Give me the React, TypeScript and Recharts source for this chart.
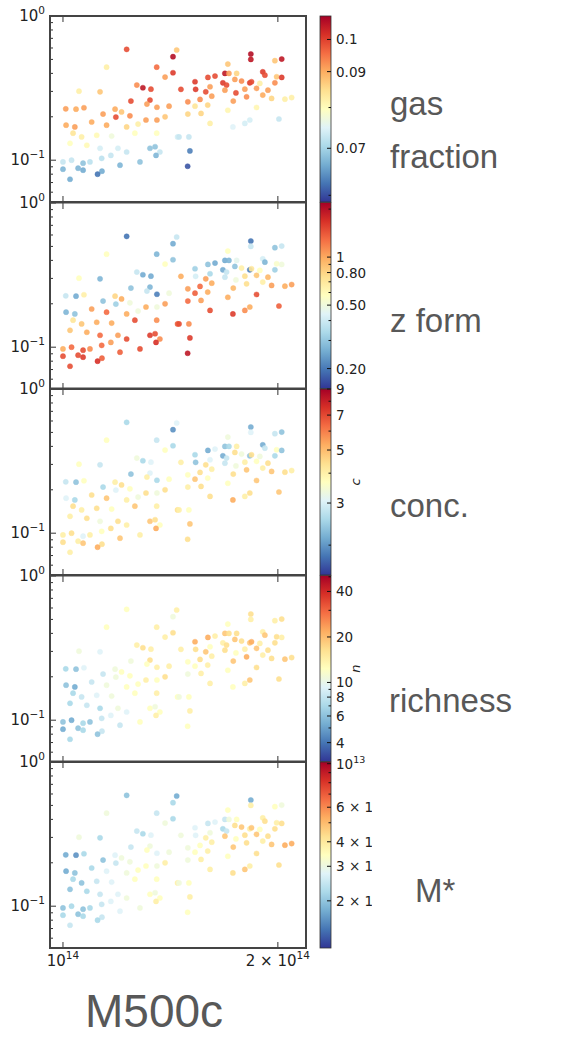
import React from "react";
import { ScatterChart, Scatter, XAxis, YAxis } from "recharts";

// halo mass in units of 1e14 (x axis) and y value, same halos in all five panels
const massE14 = [
  1.228, 1.151, 1.443, 1.426, 1.353, 1.39, 1.426, 1.127, 1.053, 1.269,
  1.294, 1.328, 1.245, 1.324, 1.311, 1.354, 1.408, 1.009, 1.043, 1.07,
  1.183, 1.208, 1.138, 1.186, 1.241, 1.307, 1.354, 1.39, 1.01, 1.039,
  1.097, 1.151, 1.228, 1.274, 1.033, 1.062, 1.115, 1.17, 1.261, 1.353,
  1.447, 1.023, 1.08, 1.127, 1.194, 1.228, 1.324, 1.346, 1.367, 1.35,
  1.0, 1.028, 1.067, 1.091, 1.133, 1.167, 1.282, 1.202, 1.0, 1.05,
  1.067, 1.134, 1.118, 1.023, 1.833, 1.833, 2.025, 1.981, 1.702, 1.686,
  1.708, 1.596, 1.633, 1.751, 1.905, 1.918, 1.992, 2.025, 1.531, 1.675,
  1.695, 1.741, 1.779, 1.827, 1.837, 1.887, 1.981, 1.463, 1.534, 1.607,
  1.585, 1.686, 1.798, 1.867, 1.937, 1.747, 1.616, 1.556, 1.496, 1.808,
  1.732, 1.905, 1.96, 2.046, 2.091, 1.595, 1.531, 1.496, 1.561, 1.702,
  1.867, 1.607, 1.73, 1.798, 1.827, 2.007, 1.454, 1.501, 1.506, 1.495,
];

const yValue = [
  0.587, 0.442, 0.581, 0.522, 0.442, 0.377, 0.404, 0.298, 0.301, 0.332,
  0.318, 0.311, 0.257, 0.261, 0.245, 0.233, 0.237, 0.227, 0.226, 0.231,
  0.226, 0.216, 0.209, 0.199, 0.203, 0.19, 0.19, 0.2, 0.175, 0.17,
  0.184, 0.175, 0.17, 0.178, 0.154, 0.145, 0.149, 0.147, 0.154, 0.154,
  0.145, 0.131, 0.127, 0.121, 0.121, 0.114, 0.121, 0.124, 0.114, 0.108,
  0.0973, 0.1, 0.0953, 0.0973, 0.103, 0.108, 0.0973, 0.0923, 0.0866, 0.088,
  0.0853, 0.0839, 0.08, 0.0738, 0.545, 0.5, 0.503, 0.49, 0.464, 0.4,
  0.4, 0.375, 0.383, 0.4, 0.41, 0.389, 0.379, 0.375, 0.35, 0.344,
  0.332, 0.363, 0.354, 0.344, 0.35, 0.341, 0.344, 0.31, 0.31, 0.323,
  0.298, 0.306, 0.311, 0.315, 0.306, 0.293, 0.278, 0.264, 0.254, 0.275,
  0.257, 0.283, 0.268, 0.265, 0.272, 0.241, 0.237, 0.209, 0.211, 0.222,
  0.232, 0.18, 0.17, 0.18, 0.19, 0.193, 0.145, 0.145, 0.116, 0.0908,
];

const gasFraction = [
  0.0986, 0.0821, 0.0872, 0.1061, 0.0956, 0.0911, 0.1004, 0.0872, 0.0821, 0.0927,
  0.1048, 0.0986, 0.0986, 0.0986, 0.0911, 0.0911, 0.0911, 0.0911, 0.09, 0.0911,
  0.09, 0.0872, 0.0911, 0.0986, 0.0927, 0.0911, 0.0911, 0.0872, 0.09, 0.0911,
  0.09, 0.09, 0.0857, 0.0821, 0.0836, 0.0821, 0.0806, 0.0772, 0.0796, 0.0796,
  0.074, 0.0796, 0.0806, 0.074, 0.074, 0.0727, 0.0684, 0.0684, 0.0727, 0.0671,
  0.0727, 0.0727, 0.0684, 0.0718, 0.0718, 0.0727, 0.0684, 0.0671, 0.0671, 0.0671,
  0.0663, 0.0663, 0.0624, 0.0663, 0.1061, 0.1048, 0.1048, 0.0872, 0.0872, 0.1048,
  0.0911, 0.0986, 0.0986, 0.0857, 0.1004, 0.0986, 0.0872, 0.1004, 0.1004, 0.1004,
  0.0986, 0.0911, 0.0927, 0.1004, 0.0986, 0.0821, 0.0927, 0.0986, 0.1004, 0.0911,
  0.0986, 0.0911, 0.0911, 0.0911, 0.0911, 0.0986, 0.0911, 0.0927, 0.0927, 0.0927,
  0.0911, 0.09, 0.0857, 0.0821, 0.0821, 0.0857, 0.0836, 0.0857, 0.0857, 0.0811,
  0.0811, 0.0821, 0.0749, 0.074, 0.074, 0.0727, 0.0727, 0.0727, 0.0632, 0.0605,
];

const zForm = [
  0.196, 0.574, 0.384, 0.256, 0.271, 0.574, 0.294, 0.271, 0.574, 0.384,
  0.256, 0.256, 0.294, 0.271, 0.384, 0.207, 0.502, 0.384, 0.256, 0.657,
  0.793, 0.982, 0.294, 0.318, 0.502, 0.982, 0.502, 1.04, 0.271, 0.294,
  1.04, 1.29, 0.982, 0.502, 0.712, 0.86, 0.982, 0.982, 1.47, 1.12,
  1.36, 0.86, 0.982, 1.29, 1.04, 1.47, 1.59, 1.47, 1.12, 1.68,
  0.982, 1.29, 1.47, 1.12, 1.29, 1.04, 1.47, 1.36, 1.47, 1.47,
  1.59, 1.36, 1.68, 1.47, 0.196, 0.384, 0.384, 0.294, 0.574, 0.256,
  0.271, 0.294, 0.256, 0.463, 0.416, 0.271, 0.544, 0.502, 0.318, 0.256,
  0.384, 0.294, 0.657, 0.207, 0.712, 0.574, 0.318, 0.982, 0.416, 0.336,
  1.04, 0.384, 0.75, 0.86, 0.932, 0.502, 0.982, 1.29, 1.04, 0.75,
  0.932, 0.657, 1.04, 0.982, 1.04, 0.982, 1.36, 1.29, 1.04, 0.982,
  1.47, 1.47, 1.59, 1.12, 0.982, 1.36, 1.47, 1.12, 1.59, 1.92,
];

const concentration = [
  2.57, 3.67, 3.07, 1.96, 2.81, 3.67, 2.57, 2.81, 3.67, 3.36,
  2.57, 3.07, 2.35, 3.07, 4.02, 2.57, 3.67, 2.81, 2.35, 3.67,
  4.02, 4.39, 2.57, 3.07, 3.67, 4.39, 3.36, 4.39, 3.07, 2.57,
  4.39, 4.8, 4.02, 3.36, 4.39, 4.02, 4.39, 3.67, 4.8, 4.02,
  4.39, 4.02, 4.39, 3.36, 4.39, 4.02, 4.8, 4.39, 3.67, 5.25,
  4.02, 4.39, 3.07, 4.02, 3.67, 4.39, 4.02, 4.8, 4.39, 4.02,
  4.8, 4.39, 5.25, 4.02, 2.15, 3.07, 2.35, 2.81, 3.36, 2.35,
  2.57, 2.15, 3.07, 4.02, 2.15, 2.81, 3.67, 2.35, 2.57, 2.15,
  2.81, 4.39, 3.36, 2.35, 4.39, 3.36, 2.57, 4.02, 2.35, 3.07,
  4.39, 2.81, 4.02, 3.67, 4.39, 3.36, 4.02, 4.39, 3.67, 4.8,
  4.39, 4.02, 4.8, 4.39, 4.02, 3.67, 4.8, 4.02, 4.39, 3.67,
  4.8, 4.39, 5.25, 4.02, 4.39, 4.8, 4.02, 3.67, 4.8, 4.39,
];

const richness = [
  12.4, 12.4, 14.2, 10.7, 14.2, 14.2, 16.4, 9.3, 10.7, 14.2,
  16.4, 14.2, 10.7, 16.4, 12.4, 14.2, 14.2, 7.0, 6.1, 9.3,
  10.7, 12.4, 8.1, 10.7, 12.4, 14.2, 12.4, 16.4, 6.1, 5.3,
  8.1, 10.7, 12.4, 12.4, 7.0, 8.1, 9.3, 10.7, 12.4, 14.2,
  12.4, 7.0, 8.1, 7.0, 10.7, 9.3, 12.4, 10.7, 12.4, 14.2,
  6.1, 5.3, 7.0, 6.1, 8.1, 9.3, 12.4, 8.1, 5.3, 6.1,
  7.0, 8.1, 6.1, 7.0, 16.4, 14.2, 16.4, 14.2, 12.4, 18.9,
  16.4, 21.8, 14.2, 16.4, 14.2, 18.9, 16.4, 14.2, 21.8, 14.2,
  16.4, 18.9, 16.4, 18.9, 21.8, 14.2, 16.4, 14.2, 16.4, 12.4,
  18.9, 16.4, 14.2, 18.9, 16.4, 12.4, 14.2, 16.4, 12.4, 21.8,
  18.9, 14.2, 16.4, 18.9, 16.4, 14.2, 12.4, 10.7, 14.2, 12.4,
  16.4, 14.2, 12.4, 14.2, 18.9, 16.4, 10.7, 12.4, 14.2, 12.4,
];

// stellar mass in units of 1e12
const mStarE12 = [
  1.98, 3.07, 1.78, 2.21, 2.47, 3.07, 2.21, 2.21, 3.07, 2.47,
  2.21, 2.75, 2.47, 3.07, 3.42, 2.75, 3.07, 1.78, 1.6, 2.21,
  2.75, 3.07, 1.98, 2.47, 3.07, 3.42, 3.07, 3.82, 1.78, 1.98,
  2.21, 2.75, 3.07, 3.42, 2.21, 1.98, 2.47, 2.75, 3.42, 3.42,
  3.82, 1.98, 2.21, 2.47, 2.75, 3.07, 3.42, 3.07, 3.42, 3.82,
  1.98, 2.21, 1.98, 2.21, 2.47, 2.75, 3.07, 2.75, 2.21, 1.98,
  2.21, 2.47, 2.21, 2.47, 1.78, 3.82, 3.07, 3.42, 3.42, 2.47,
  3.07, 2.47, 2.75, 3.42, 3.82, 4.26, 3.82, 4.26, 2.75, 2.21,
  2.47, 4.26, 4.75, 3.82, 4.75, 3.42, 4.26, 3.07, 2.75, 3.07,
  3.82, 4.75, 4.26, 4.75, 4.26, 3.42, 3.82, 3.42, 3.07, 4.26,
  4.75, 3.82, 4.75, 5.29, 5.29, 3.82, 3.42, 3.07, 3.82, 3.42,
  4.26, 3.82, 4.26, 4.75, 3.82, 4.26, 3.07, 3.42, 3.82, 3.42,
];

const yTicks = [0.06, 0.07, 0.08, 0.09, 0.1, 0.2, 0.3, 0.4, 0.5, 0.6, 0.7, 0.8, 0.9, 1];
const xTicks = [1, 2];

// colorbar ticks
const gasTicks = [0.07, 0.09, 0.1];
const gasTickLabels = ["0.07", "0.09", "0.1"];
const gasMinor = [0.06, 0.08];
const zFormTicks = [0.2, 0.5, 0.8, 1];
const zFormTickLabels = ["0.20", "0.50", "0.80", "1"];
const zFormMinor = [0.3, 0.4, 0.6, 0.7, 0.9, 2];
const concTicks = [3, 5, 7, 9];
const concTickLabels = ["3", "5", "7", "9"];
const concMinor = [2, 4, 6, 8];
const richTicks = [4, 6, 8, 10, 20, 40];
const richTickLabels = ["4", "6", "8", "10", "20", "40"];
const richMinor = [5, 7, 9, 30, 50];
const mStarTicks = [2, 3, 4, 6, 10];
const mStarTickLabels = [["2 × 10", "12"], ["3 × 10", "12"], ["4 × 10", "12"], ["6 × 10", "12"], ["10", "13"]];
const mStarMinor = [5, 7, 8, 9];

const RDYLBU_R = [
  "#313695", "#4575b4", "#74add1", "#abd9e9", "#e0f3f8", "#ffffbf",
  "#fee090", "#fdae61", "#f46d43", "#d73027", "#a50026",
];

function hexRgb(h: string) {
  return [1, 3, 5].map((i) => parseInt(h.slice(i, i + 2), 16));
}

function cmap(t: number) {
  const c = Math.max(0, Math.min(1, t)) * 10;
  const i = Math.min(9, Math.floor(c));
  const f = c - i;
  const a = hexRgb(RDYLBU_R[i]);
  const b = hexRgb(RDYLBU_R[i + 1]);
  const rgb = a.map((v, k) => Math.round(v + (b[k] - v) * f));
  return `rgb(${rgb[0]},${rgb[1]},${rgb[2]})`;
}

const logNorm = (v: number, lo: number, hi: number) =>
  (Math.log(v) - Math.log(lo)) / (Math.log(hi) - Math.log(lo));

const PANEL_H = 186;
const PANEL_TOPS = [16, 202.5, 389, 575.5, 762];
const PLOT_LEFT = 50;
const PLOT_W = 256;
const PAD = 14;
const CB_X = 320;
const CB_W = 11;
const AXIS_FONT = "DejaVu Sans, sans-serif";
const LABEL_FONT = "Liberation Sans, Arial, sans-serif";

const panels = [
  { values: gasFraction, domain: [0.0587, 0.108], ticks: gasTicks, labels: gasTickLabels, minor: gasMinor, title: ["gas", "fraction"], titleX: 390, titleY: [115, 168], cbLabel: "" },
  { values: zForm, domain: [0.15, 2.2], ticks: zFormTicks, labels: zFormTickLabels, minor: zFormMinor, title: ["z form"], titleX: 390, titleY: [332], cbLabel: "" },
  { values: concentration, domain: [1.5, 9], ticks: concTicks, labels: concTickLabels, minor: concMinor, title: ["conc."], titleX: 390, titleY: [517], cbLabel: "c" },
  { values: richness, domain: [3, 51], ticks: richTicks, labels: richTickLabels, minor: richMinor, title: ["richness"], titleX: 389, titleY: [712], cbLabel: "n" },
  { values: mStarE12, domain: [1.15, 10.2], ticks: mStarTicks, labels: mStarTickLabels, minor: mStarMinor, title: ["M*"], titleX: 415, titleY: [902], cbLabel: "" },
];

function YTick(props: any) {
  const { y, payload } = props;
  const v = payload.value;
  const major = v === 1 || v === 0.1;
  return (
    <g>
      <line x1={PLOT_LEFT} x2={PLOT_LEFT + (major ? 6 : 3)} y1={y} y2={y} stroke="#333" strokeWidth={1} />
      {major && (
        <text x={45} y={y + 5} textAnchor="end" fontFamily={AXIS_FONT} fontSize={15} fill="#222">
          10<tspan dy={-7} fontSize={10.5}>{v === 1 ? "0" : "−1"}</tspan>
        </text>
      )}
    </g>
  );
}

function makeXTick(showLabel: boolean) {
  return (props: any) => {
    const { x, payload } = props;
    const bottom = PAD + PANEL_H;
    const v = payload.value;
    return (
      <g>
        <line x1={x} x2={x} y1={bottom} y2={bottom - 6} stroke="#333" strokeWidth={1} />
        <line x1={x} x2={x} y1={PAD} y2={PAD + 6} stroke="#333" strokeWidth={1} />
        {showLabel && (
          <text x={x} y={bottom + 18} textAnchor="middle" fontFamily={AXIS_FONT} fontSize={15} fill="#222">
            {v === 1 ? "10" : "2 × 10"}
            <tspan dy={-7} fontSize={10.5}>14</tspan>
          </text>
        )}
      </g>
    );
  };
}

function Panel({ index }: { index: number }) {
  const p = panels[index];
  const [lo, hi] = p.domain;
  const data = massE14.map((m, i) => ({
    m,
    y: yValue[i],
    color: cmap(logNorm(p.values[i], lo, hi)),
  }));
  return (
    <div style={{ position: "absolute", left: 0, top: PANEL_TOPS[index] - PAD }}>
      <ScatterChart width={320} height={PAD + PANEL_H + 30} margin={{ top: PAD, right: 14, bottom: 0, left: 0 }}>
        <XAxis
          dataKey="m"
          type="number"
          scale="log"
          domain={[0.959, 2.19]}
          allowDataOverflow
          ticks={xTicks}
          interval={0}
          height={30}
          axisLine={false}
          tickLine={false}
          tick={makeXTick(index === panels.length - 1)}
        />
        <YAxis
          dataKey="y"
          type="number"
          scale="log"
          domain={[0.0513, 1]}
          allowDataOverflow
          ticks={yTicks}
          interval={0}
          width={50}
          axisLine={false}
          tickLine={false}
          tick={<YTick />}
        />
        <Scatter
          data={data}
          isAnimationActive={false}
          shape={(s: any) => (
            <circle
              cx={s.cx}
              cy={s.cy}
              r={2.6}
              fill={s.payload.color}
              fillOpacity={0.9}
              stroke={s.payload.color}
              strokeOpacity={0.5}
              strokeWidth={0.8}
            />
          )}
        />
      </ScatterChart>
    </div>
  );
}

function Colorbars() {
  return (
    <svg width={562} height={1037} style={{ position: "absolute", left: 0, top: 0, pointerEvents: "none" }}>
      <defs>
        <linearGradient id="rdylbu" x1="0" y1="1" x2="0" y2="0">
          {RDYLBU_R.map((c, i) => (
            <stop key={i} offset={i / 10} stopColor={c} />
          ))}
        </linearGradient>
        <clipPath id="cbclip">
          <rect x={0} y={0} width={372} height={1037} />
        </clipPath>
      </defs>
      {panels.map((p, k) => {
        const top = PANEL_TOPS[k];
        const [lo, hi] = p.domain;
        const pos = (v: number) => top + (1 - logNorm(v, lo, hi)) * PANEL_H;
        return (
          <g key={k}>
            <rect x={CB_X} y={top} width={CB_W} height={PANEL_H} fill="url(#rdylbu)" stroke="#333" strokeWidth={0.8} />
            {p.minor
              .filter((v) => v > lo && v < hi)
              .map((v) => (
                <line key={"m" + v} x1={CB_X + CB_W} x2={CB_X + CB_W - 2.5} y1={pos(v)} y2={pos(v)} stroke="#111" strokeWidth={1} />
              ))}
            {p.ticks.map((v, i) => {
              const lab = p.labels[i];
              return (
                <g key={"t" + v}>
                  <line x1={CB_X + CB_W} x2={CB_X + CB_W - 4} y1={pos(v)} y2={pos(v)} stroke="#111" strokeWidth={1} />
                  <text x={CB_X + CB_W + 5} y={pos(v) + 5} fontFamily={AXIS_FONT} fontSize={13.5} fill="#222" clipPath="url(#cbclip)">
                    {Array.isArray(lab) ? (
                      <>
                        {lab[0]}
                        <tspan dy={-6} fontSize={9.5}>{lab[1]}</tspan>
                      </>
                    ) : (
                      lab
                    )}
                  </text>
                </g>
              );
            })}
            {p.cbLabel && (
              <text
                x={0}
                y={0}
                transform={`translate(${CB_X + 40}, ${top + PANEL_H / 2}) rotate(-90)`}
                textAnchor="middle"
                fontFamily={AXIS_FONT}
                fontStyle="italic"
                fontSize={13}
                fill="#222"
              >
                {p.cbLabel}
              </text>
            )}
            {p.title.map((t, i) => (
              <text key={t} x={p.titleX} y={p.titleY[i]} fontFamily={LABEL_FONT} fontSize={33} fill="#585858">
                {t}
              </text>
            ))}
          </g>
        );
      })}
      {PANEL_TOPS.map((t, k) => (
        <rect key={"f" + k} x={PLOT_LEFT} y={t} width={PLOT_W} height={PANEL_H} fill="none" stroke="#444" strokeWidth={2} />
      ))}
      <text x={85} y={1027} fontFamily={LABEL_FONT} fontSize={46} fill="#585858">
        M500c
      </text>
    </svg>
  );
}

export default function App() {
  return (
    <div style={{ position: "absolute", left: 0, top: 0, width: 562, height: 1037, overflow: "hidden", background: "#fff" }}>
      {panels.map((_, i) => (
        <Panel key={i} index={i} />
      ))}
      <Colorbars />
    </div>
  );
}
